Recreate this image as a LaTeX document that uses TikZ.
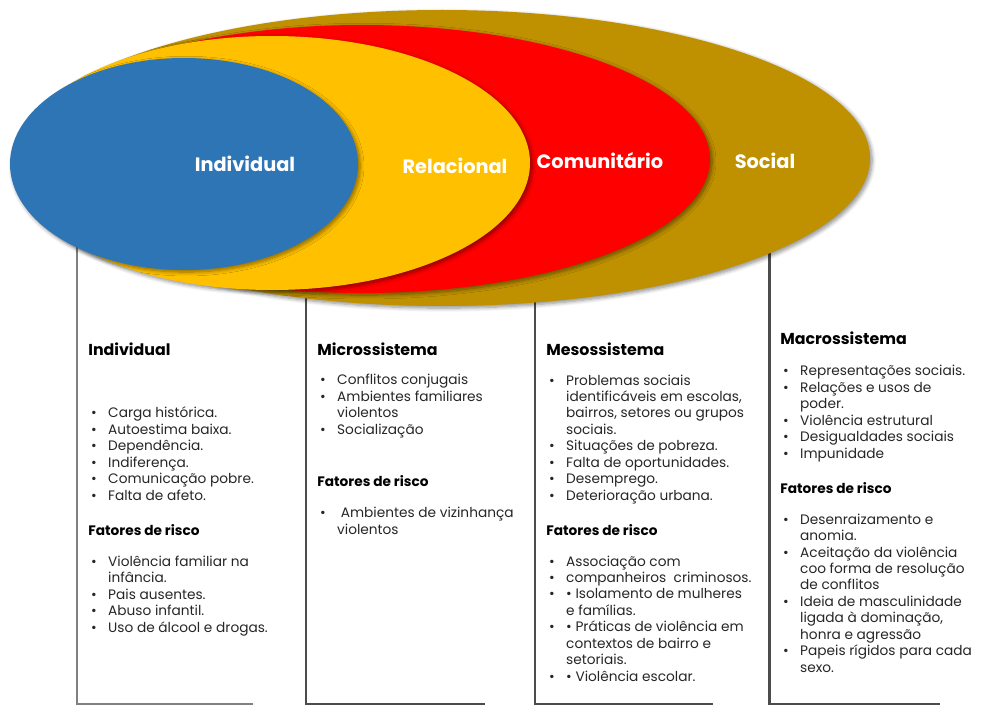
\documentclass[tikz,border=0pt]{standalone}
\usepackage{fontspec}
\setmainfont{Poppins}
\usetikzlibrary{shadows.blur}

\definecolor{socialcol}{HTML}{BF9000}
\definecolor{comcol}{HTML}{FF0000}
\definecolor{relcol}{HTML}{FFC000}
\definecolor{indcol}{HTML}{2E75B6}

\newcommand{\blt}{\makebox[11.3pt][l]{\hspace{1.6pt}\textbullet}}
\newcommand{\cnt}{\hspace*{11.3pt}}

\tikzset{
  ring/.style={blur shadow={shadow xshift=1.2pt,shadow yshift=-1.2pt,shadow blur steps=6,shadow opacity=45}},
  ringlabel/.style={text=white,font=\fontsize{11}{13}\selectfont\bfseries},
  colhead/.style={anchor=base west,inner sep=0,font=\fontsize{9}{11}\selectfont\bfseries},
  riskhead/.style={anchor=base west,inner sep=0,font=\fontsize{7.8}{9.35}\selectfont\bfseries},
  % base = baseline of the last line
  itemlist/.style={anchor=base west,inner sep=0,align=left,font=\fontsize{7.8}{9.35}\selectfont,text=black!85},
  colline/.style={line width=1.7pt,draw=black!70},
}

\begin{document}
\begin{tikzpicture}[x=0.02cm,y=-0.02cm]
 \useasboundingbox (0,0) rectangle (981,706);

 % column borders
 \draw[colline,draw=black!50] (77,230) -- (77,704) -- (253,704);
 \draw[colline] (306,280) -- (306,704) -- (485,704);
 \draw[colline] (535,280) -- (535,704) -- (713,704);
 \draw[colline] (769,240) -- (769,704) -- (940,704);

 % nested levels
 \fill[socialcol,ring] (442,158) ellipse (428 and 148);
 \fill[comcol,ring] (362,159) ellipse (348 and 134);
 \fill[relcol,ring] (272,163) ellipse (258 and 127);
 \fill[indcol,ring] (184,164) ellipse (174 and 106);

 \node[ringlabel] (indlabel) at (245,164) {Individual};
 \node[ringlabel] (rellabel) at (455,166) {Relacional};
 \node[ringlabel] (comlabel) at (600,161) {Comunitário};
 \node[ringlabel] (soclabel) at (765,161) {Social};

 % Individual
 \node[colhead] (indhead) at (88,355) {Individual};
 \node[itemlist] (indlist) at (88,500) {\blt Carga histórica.\\ \blt Autoestima baixa.\\ \blt Dependência.\\
   \blt Indiferença.\\ \blt Comunicação pobre.\\ \blt Falta de afeto.};
 \node[riskhead] (indrisk) at (88,535) {Fatores de risco};
 \node[itemlist] (indrisklist) at (88,632) {\blt Violência familiar na\\ \cnt infância.\\ \blt Pais ausentes.\\
   \blt Abuso infantil.\\ \blt Uso de álcool e drogas.};

 % Microssistema
 \node[colhead] (michead) at (317,355) {Microssistema};
 \node[itemlist] (miclist) at (317,434) {\blt Conflitos conjugais\\ \blt Ambientes familiares\\ \cnt violentos\\
   \blt Socialização};
 \node[riskhead] (micrisk) at (317,486) {Fatores de risco};
 \node[itemlist] (micrisklist) at (317,534) {\blt\ Ambientes de vizinhança\\ \cnt violentos};

 % Mesossistema
 \node[colhead] (meshead) at (546,355) {Mesossistema};
 \node[itemlist] (meslist) at (546,500) {\blt Problemas sociais\\ \cnt identificáveis em escolas,\\
   \cnt bairros, setores ou grupos\\ \cnt sociais.\\ \blt Situações de pobreza.\\ \blt Falta de oportunidades.\\
   \blt Desemprego.\\ \blt Deterioração urbana.};
 \node[riskhead] (mesrisk) at (546,535) {Fatores de risco};
 \node[itemlist] (mesrisklist) at (546,681) {\blt Associação com\\ \blt companheiros\ \ criminosos.\\
   \blt • Isolamento de mulheres\\ \cnt e famílias.\\ \blt • Práticas de violência em\\
   \cnt contextos de bairro e\\ \cnt setoriais.\\ \blt • Violência escolar.};

 % Macrossistema
 \node[colhead] (machead) at (780,344) {Macrossistema};
 \node[itemlist] (maclist) at (780,458) {\blt Representações sociais.\\ \blt Relações e usos de\\ \cnt poder.\\
   \blt Violência estrutural\\ \blt Desigualdades sociais\\ \blt Impunidade};
 \node[riskhead] (macrisk) at (780,493) {Fatores de risco};
 \node[itemlist] (macrisklist) at (780,672) {\blt Desenraizamento e\\ \cnt anomia.\\ \blt Aceitação da violência\\
   \cnt coo forma de resolução\\ \cnt de conflitos\\ \blt Ideia de masculinidade\\ \cnt ligada à dominação,\\
   \cnt honra e agressão\\ \blt Papeis rígidos para cada\\ \cnt sexo.};
\end{tikzpicture}
\end{document}
